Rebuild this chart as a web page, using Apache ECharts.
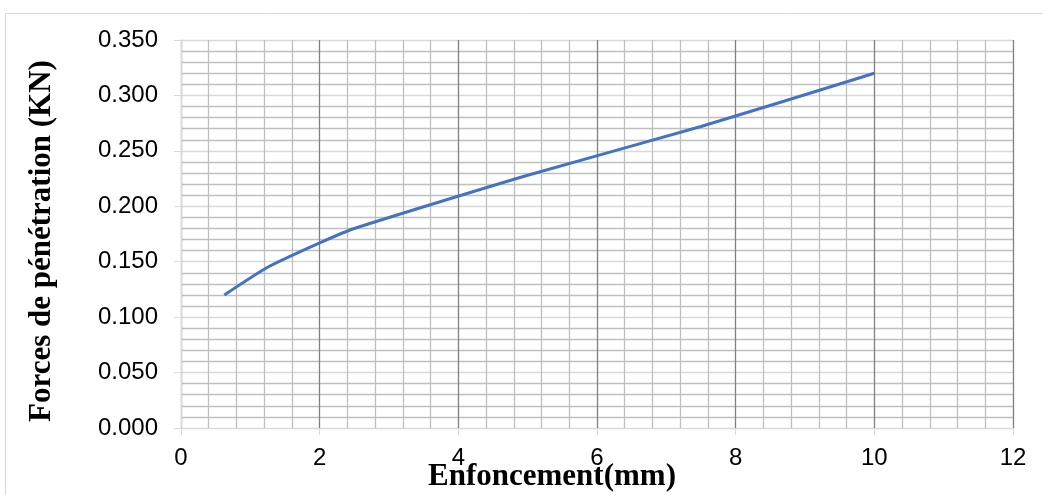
<!DOCTYPE html>
<html>
<head>
<meta charset="utf-8">
<script src="https://cdn.jsdelivr.net/npm/echarts@6/dist/echarts.min.js"></script>
<style>
  html, body { margin: 0; padding: 0; background: #fff; }
  #chart { width: 1043px; height: 495px; }
</style>
</head>
<body>
<div id="chart"></div>
<script>
// enfoncement (mm) et force de pénétration (kN)
const enfoncement = [0.625, 1.25, 2, 2.5, 5, 7.5, 10];
const force = [0.120, 0.145, 0.167, 0.180, 0.228, 0.272, 0.320];

const chart = echarts.init(document.getElementById('chart'), null, { renderer: 'canvas' });

const LABEL = { color: '#000', fontSize: 24, fontFamily: 'Liberation Sans, Arial, sans-serif' };
const TITLE = { color: '#000', fontSize: 31, fontWeight: 'bold', fontFamily: 'Liberation Serif, Times New Roman, serif' };

chart.setOption({
  animation: false,
  graphic: [{
    type: 'rect', silent: true, z: -1,
    shape: { x: 5.5, y: 13.5, width: 1050, height: 500 },
    style: { fill: 'none', stroke: '#d9d9d9', lineWidth: 1 },
  }],
  grid: { left: 181, right: 30, top: 40, bottom: 67, containLabel: false, outerBoundsMode: 'none' },
  xAxis: {
    type: 'value', min: 0, max: 12, interval: 2,
    name: 'Enfoncement(mm)', nameLocation: 'middle', nameGap: 33, nameMoveOverlap: false,
    nameTextStyle: { ...TITLE, padding: [0, 90, 0, 0] },
    axisLine: { show: true, onZero: false, lineStyle: { color: '#d9d9d9', width: 1 } },
    axisTick: { show: true, length: 7, lineStyle: { color: '#d9d9d9' } },
    axisLabel: { ...LABEL, margin: 18 },
    splitLine: { show: true, lineStyle: { color: '#808080', width: 1.3 } },
    minorTick: { show: false, splitNumber: 5 },
    minorSplitLine: { show: true, lineStyle: { color: '#bfbfbf', width: 1.3 } },
  },
  yAxis: {
    type: 'value', min: 0, max: 0.35, interval: 0.05,
    name: 'Forces de pénétration (KN)', nameLocation: 'middle', nameGap: 124, nameMoveOverlap: false,
    nameTextStyle: { ...TITLE, padding: [0, 14, 0, 0] },
    axisLine: { show: true, lineStyle: { color: '#d9d9d9', width: 1 } },
    axisTick: { show: true, length: 7, lineStyle: { color: '#d9d9d9' } },
    axisLabel: { ...LABEL, margin: 23, formatter: (v) => v.toFixed(3) },
    splitLine: { show: true, lineStyle: { color: '#d9d9d9', width: 1.3 } },
    minorTick: { show: false, splitNumber: 5 },
    minorSplitLine: { show: true, lineStyle: { color: '#bfbfbf', width: 1.3 } },
  },
  series: [{
    type: 'line',
    data: enfoncement.map((x, i) => [x, force[i]]),
    smooth: 0.2,
    symbol: 'none',
    lineStyle: { color: '#4472c4', width: 3 },
  }],
});
</script>
</body>
</html>
